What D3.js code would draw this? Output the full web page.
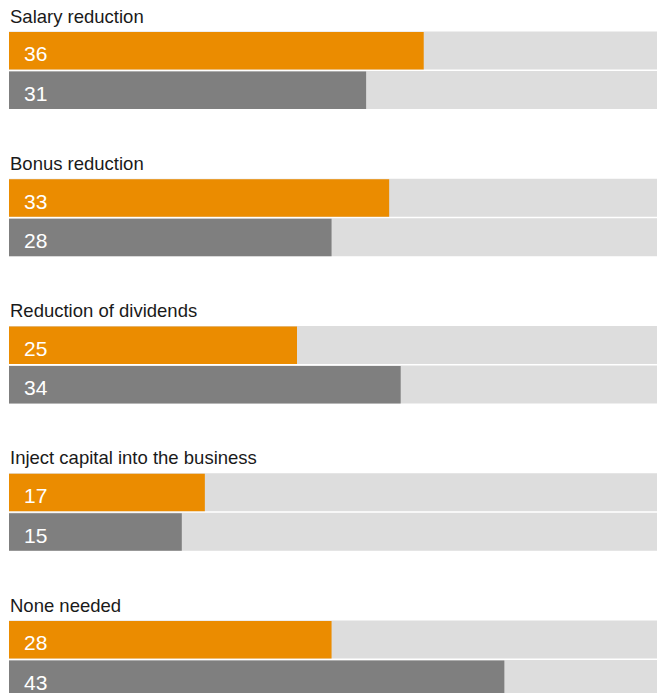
<!DOCTYPE html>
<html>
<head>
<meta charset="utf-8">
<script src="https://cdn.jsdelivr.net/npm/d3@7"></script>
<style>
  body { margin: 0; background: #fff; }
  svg { display: block; font-family: Arial, "Liberation Sans", sans-serif; }
</style>
</head>
<body>
<div id="chart"></div>
<script>
// data
const categories = [
  "Salary reduction",
  "Bonus reduction",
  "Reduction of dividends",
  "Inject capital into the business",
  "None needed"
];
const seriesKeys = ["first", "second"];
const firstValues = [36, 33, 25, 17, 28];
const secondValues = [31, 28, 34, 15, 43];
const maxValue = 56.25;

const width = 664, height = 693;
const margin = { top: 32, left: 9, right: 7 };
const groupStep = 147.25;
const colors = { first: "#eb8c00", second: "#7f7f7f" };

const rows = categories.map((c, i) => ({
  category: c,
  values: [
    { key: "first", value: firstValues[i] },
    { key: "second", value: secondValues[i] }
  ]
}));

const svg = d3.select("#chart").append("svg")
  .attr("width", width)
  .attr("height", height);

// scales
const x = d3.scaleLinear()
  .domain([0, maxValue])
  .range([margin.left, width - margin.right]);

const yGroup = d3.scaleBand()
  .domain(categories)
  .range([margin.top, margin.top + groupStep * categories.length])
  .paddingInner(0);

const ySub = d3.scaleBand()
  .domain(seriesKeys)
  .range([0, 77])
  .paddingInner(2 / 39.5);

const group = svg.selectAll("g.group")
  .data(rows)
  .join("g")
  .attr("class", "group")
  .attr("transform", d => `translate(0, ${yGroup(d.category)})`);

// category label
group.append("text")
  .attr("x", 10)
  .attr("y", -9.5)
  .attr("font-size", 18.5)
  .attr("fill", "#1a1a1a")
  .text(d => d.category);

const bar = group.selectAll("g.bar")
  .data(d => d.values)
  .join("g")
  .attr("class", "bar")
  .attr("transform", d => `translate(0, ${ySub(d.key)})`);

// background track
bar.append("rect")
  .attr("x", x(0))
  .attr("y", -0.5)
  .attr("width", x(maxValue) - x(0))
  .attr("height", ySub.bandwidth() + 0.5)
  .attr("fill", "#dddddd");

bar.append("rect")
  .attr("x", x(0))
  .attr("y", 0)
  .attr("width", d => x(d.value) - x(0))
  .attr("height", ySub.bandwidth())
  .attr("fill", d => colors[d.key]);

bar.append("text")
  .attr("x", 24)
  .attr("y", ySub.bandwidth() / 2 + 10.5)
  .attr("font-size", 21)
  .attr("fill", "#ffffff")
  .text(d => d.value);
</script>
</body>
</html>
